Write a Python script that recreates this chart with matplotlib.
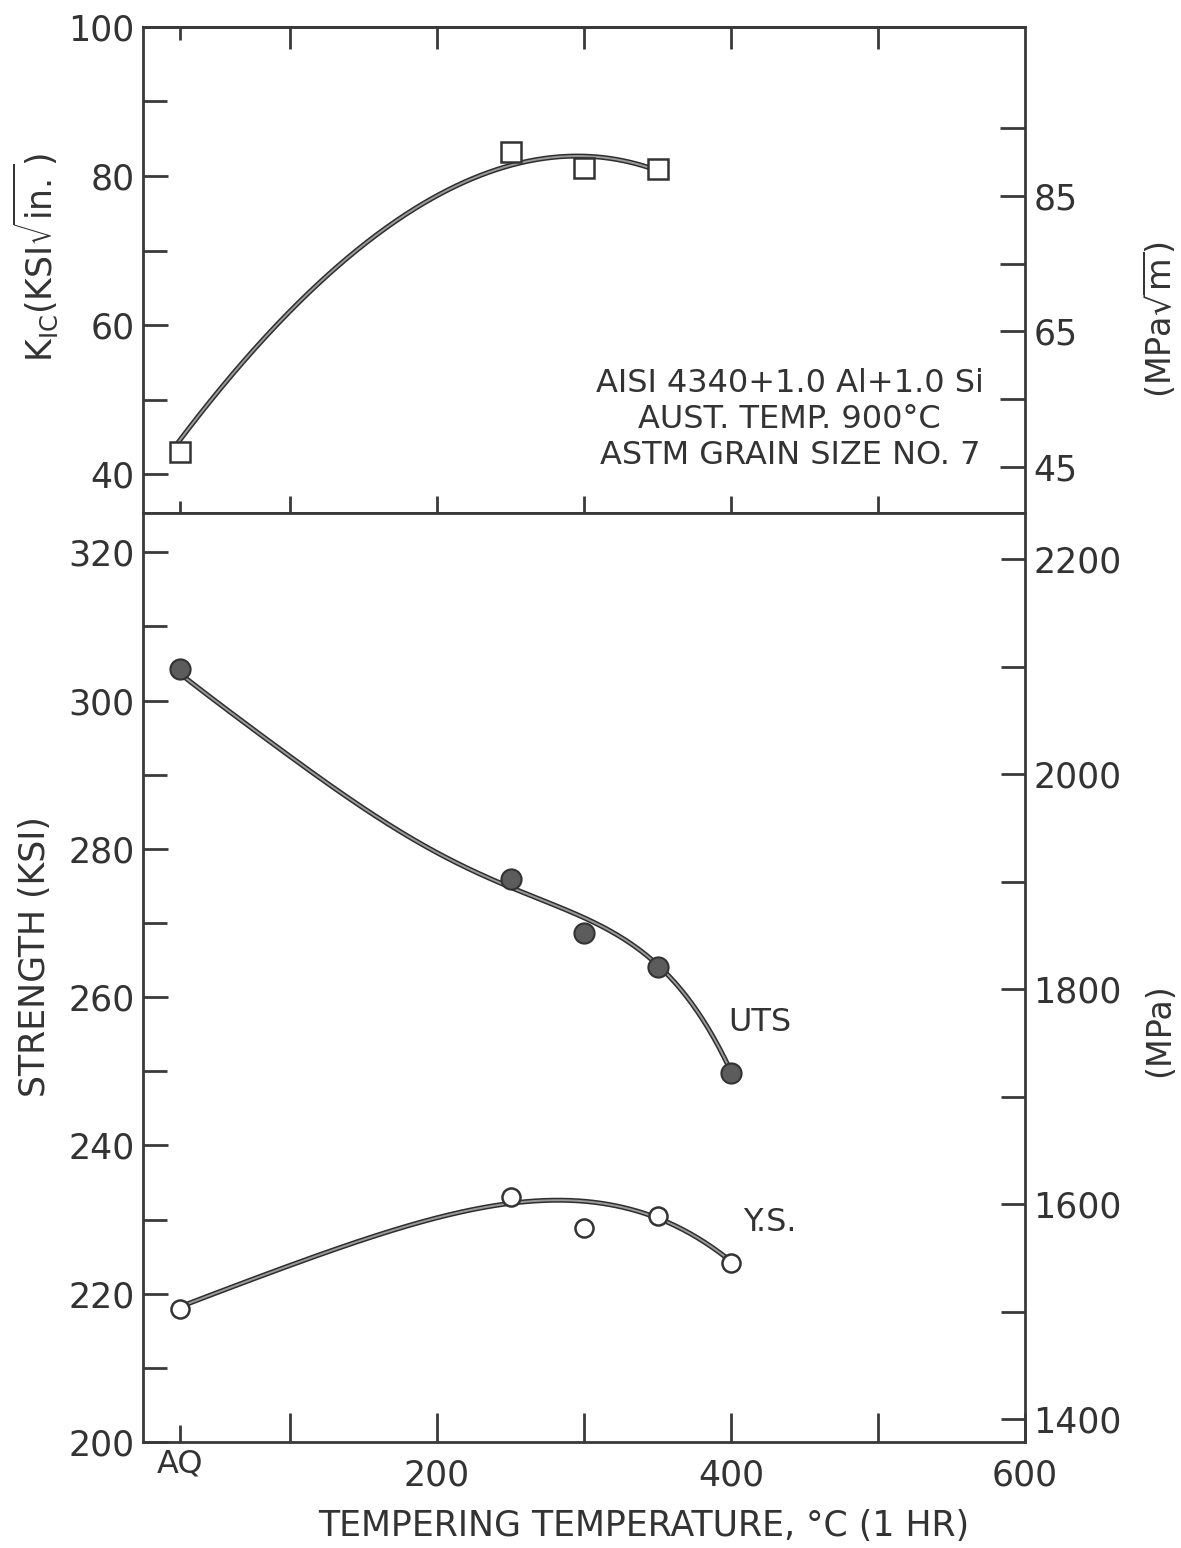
import numpy as np
import matplotlib
matplotlib.use('Agg')
import matplotlib.pyplot as plt
import matplotlib.patheffects as pe

plt.rcParams['font.family'] = ['DejaVu Sans']
plt.rcParams['text.color'] = '#333333'
plt.rcParams['axes.edgecolor'] = '#3a3a3a'
plt.rcParams['xtick.color'] = '#3a3a3a'
plt.rcParams['ytick.color'] = '#3a3a3a'
plt.rcParams['xtick.labelcolor'] = '#333333'
plt.rcParams['ytick.labelcolor'] = '#333333'
plt.rcParams['mathtext.fontset'] = 'dejavusans'

# ---- data ----
AQ = 25  # position used for the as-quenched condition
temp_k = [AQ, 250, 300, 350]
kic = [43.0, 83.2, 81.1, 81.0]

temp_s = [AQ, 250, 300, 350, 400]
uts = [304.2, 276.0, 268.6, 264.0, 249.7]
ys = [218.0, 233.0, 228.9, 230.5, 224.1]

# hand-drawn trend curves
kic_curve_t = [23, 72, 98, 123, 148, 173, 199, 224, 249, 274, 300, 325, 348]
kic_curve_v = [44.0, 56.2, 61.1, 66.4, 70.5, 74.1, 77.2, 79.5, 81.5, 82.6, 82.6, 81.9, 81.0]

uts_curve_t = [22, 51, 78, 105, 132, 160, 187, 214, 241, 268, 295, 312, 328, 350, 377, 401]
uts_curve_v = [304.2, 299.6, 295.5, 291.9, 288.1, 284.2, 280.9, 278.0, 275.3, 273.3,
               271.3, 269.9, 267.7, 264.3, 257.8, 249.7]

ys_curve_t = [22, 54, 112, 169, 227, 256, 285, 313, 342, 371, 400]
ys_curve_v = [218.0, 220.4, 224.7, 228.5, 231.4, 232.3, 232.7, 232.1, 230.9, 228.1, 224.4]

KSI_TO_MPA = 6.895
KSIIN_TO_MPAM = 1.0988

fig = plt.figure(figsize=(11.81, 15.48), dpi=100)
ax1 = fig.add_axes([0.1211, 0.6686, 0.7468, 0.3140])
ax2 = fig.add_axes([0.1211, 0.0685, 0.7468, 0.6001])

line_fx = [pe.Stroke(linewidth=3.6, foreground='#2e2e2e'), pe.Normal()]


def smooth(t, v, deg):
    p = np.polyfit(t, v, deg)
    tt = np.linspace(min(t), max(t), 300)
    return tt, np.polyval(p, tt)


# ---- top panel: fracture toughness ----
tt, vv = smooth(kic_curve_t, kic_curve_v, 4)
ax1.plot(tt, vv, color='#9a9a9a', lw=1.4, path_effects=line_fx, zorder=2)
ax1.plot(temp_k, kic, ls='none', marker='s', ms=14, mfc='white', mec='#333333',
         mew=1.8, zorder=3)
ax1.set_xlim(0, 600)
ax1.set_ylim(34.8, 100)
ax1.set_yticks([40, 60, 80, 100])
ax1.set_yticks([50, 70, 90], minor=True)
ax1.set_xticks([100, 200, 300, 400, 500])
ax1.set_xticks([AQ], minor=True)
ax1.tick_params(axis='x', which='major', direction='inout', length=24, width=2,
                labelbottom=False)
ax1.tick_params(axis='x', which='minor', direction='inout', length=18, width=2,
                labelbottom=False)
ax1.tick_params(axis='y', which='both', direction='in', length=18, width=2,
                labelsize=25, pad=6, right=False)
ax1.tick_params(axis='y', which='minor', length=17)
top = ax1.secondary_xaxis('top')
top.set_xticks([100, 200, 300, 400, 500])
top.set_xticks([AQ], minor=True)
top.tick_params(which='major', direction='in', length=16, width=2, labeltop=False)
top.tick_params(which='minor', direction='in', length=9, width=2, labeltop=False)
for s in ax1.spines.values():
    s.set_linewidth(2)
top.spines['top'].set_linewidth(2)

ax1r = ax1.twinx()
ax1r.set_ylim(34.8 * KSIIN_TO_MPAM, 100 * KSIIN_TO_MPAM)
ax1r.set_yticks([45, 65, 85])
ax1r.set_yticks([55, 75, 95], minor=True)
ax1r.tick_params(axis='y', which='both', direction='in', length=18, width=2,
                 labelsize=25, pad=6)

ax1.text(440, 52.2, 'AISI 4340+1.0 Al+1.0 Si', ha='center', va='center', fontsize=23)
ax1.text(440, 47.3, 'AUST. TEMP. 900°C', ha='center', va='center', fontsize=23)
ax1.text(440, 42.5, 'ASTM GRAIN SIZE NO. 7', ha='center', va='center', fontsize=23)

# ---- bottom panel: strength ----
tt, vv = smooth(uts_curve_t, uts_curve_v, 5)
ax2.plot(tt, vv, color='#9a9a9a', lw=1.4, path_effects=line_fx, zorder=2)
tt, vv = smooth(ys_curve_t, ys_curve_v, 4)
ax2.plot(tt, vv, color='#9a9a9a', lw=1.4, path_effects=line_fx, zorder=2)
ax2.plot(temp_s, uts, ls='none', marker='o', ms=14.5, mfc='#5c5c5c', mec='#333333',
         mew=1.5, zorder=3)
ax2.plot(temp_s, ys, ls='none', marker='o', ms=13, mfc='white', mec='#333333',
         mew=1.8, zorder=3)
ax2.text(398, 256.6, 'UTS', ha='left', va='center', fontsize=23)
ax2.text(408, 229.6, 'Y.S.', ha='left', va='center', fontsize=23)

ax2.set_xlim(0, 600)
ax2.set_ylim(200, 325.3)
ax2.set_yticks([200, 220, 240, 260, 280, 300, 320])
ax2.set_yticks([210, 230, 250, 270, 290, 310], minor=True)
ax2.set_xticks([100, 200, 300, 400, 500, 600], labels=['', '200', '', '400', '', '600'])
ax2.set_xticks([AQ], labels=['AQ'], minor=True)
ax2.tick_params(axis='x', which='major', direction='in', length=21, width=2,
                labelsize=25, pad=12, top=False)
ax2.tick_params(axis='x', which='minor', direction='in', length=12, width=2,
                labelsize=23, pad=5, top=False)
ax2.tick_params(axis='y', which='both', direction='in', length=18, width=2,
                labelsize=25, pad=6, right=False)
ax2.tick_params(axis='y', which='minor', length=17)
for s in ax2.spines.values():
    s.set_linewidth(2)

ax2r = ax2.twinx()
ax2r.set_ylim(200 * KSI_TO_MPA, 325.3 * KSI_TO_MPA)
ax2r.set_yticks([1400, 1600, 1800, 2000, 2200])
ax2r.set_yticks([1500, 1700, 1900, 2100], minor=True)
ax2r.tick_params(axis='y', which='both', direction='in', length=17, width=2,
                 labelsize=25, pad=6)

# ---- axis titles ----
fig.text(0.030, 1 - 258 / 1548, r'K$_{\rm IC}$(KSI$\sqrt{\rm in.}$)', rotation=90,
         ha='center', va='center', fontsize=25)
fig.text(0.030, 1 - 957 / 1548, 'STRENGTH (KSI)', rotation=90,
         ha='center', va='center', fontsize=25)
fig.text(0.982, 1 - 320 / 1548, r'(MPa$\sqrt{\rm m}$)', rotation=90,
         ha='center', va='center', fontsize=24)
fig.text(0.982, 1 - 1030 / 1548, '(MPa)', rotation=90,
         ha='center', va='center', fontsize=24)
fig.text(0.545, 1 - 1526 / 1548, 'TEMPERING TEMPERATURE, °C (1 HR)',
         ha='center', va='center', fontsize=25)

plt.savefig('out.png', dpi=100)
plt.close(fig)
